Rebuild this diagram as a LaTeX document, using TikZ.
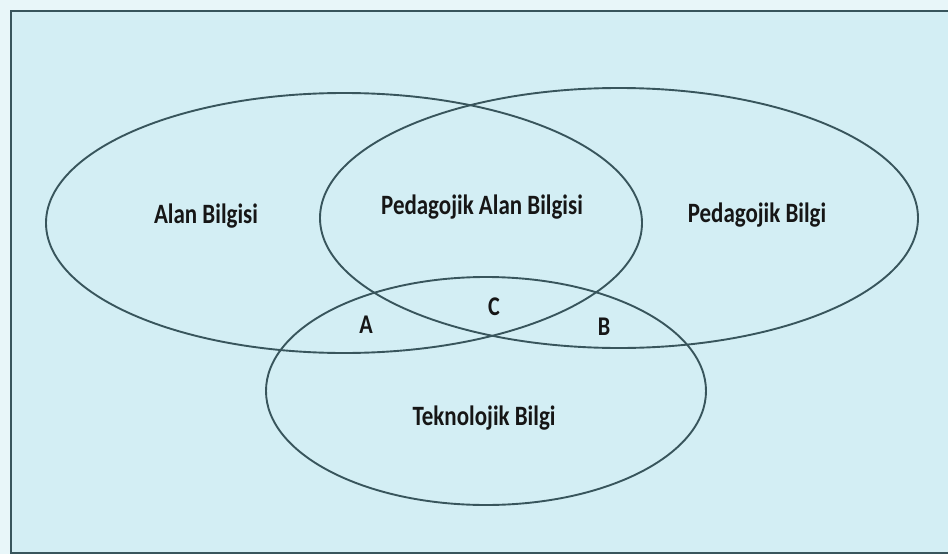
\documentclass[tikz,border=0pt]{standalone}
\usepackage{fontspec}
\setmainfont[FakeStretch=0.82]{Carlito}
\definecolor{bgc}{HTML}{D3EEF4}
\definecolor{outc}{HTML}{E8F6F9}
\definecolor{linec}{HTML}{38555C}
\definecolor{txtc}{HTML}{161616}
\tikzset{
  venn/.style={draw=linec, line width=1.9pt},
  lbl/.style={text=txtc, font=\bfseries\fontsize{28}{30}\selectfont, inner sep=0pt},
  small/.style={text=txtc, font=\bfseries\fontsize{27}{29}\selectfont, inner sep=0pt}
}
\begin{document}
\begin{tikzpicture}[x=1pt,y=-1pt]
\useasboundingbox (0,0) rectangle (948,554);
\fill[outc] (0,0) rectangle (948,554);
\fill[bgc] (11,11) rectangle (948,553);
\draw[linec, line width=2.4pt] (960,11) -- (11,11) -- (11,553) -- (960,553);
\draw[venn] (344,223) ellipse [x radius=298, y radius=130];
\draw[venn] (619,218) ellipse [x radius=299, y radius=130];
\draw[venn] (486,391) ellipse [x radius=220, y radius=114];
\node[lbl] (ab) at (206,216) {Alan Bilgisi};
\node[lbl] (pab) at (482,207) {Pedagojik Alan Bilgisi};
\node[lbl] (pb) at (757,215) {Pedagojik Bilgi};
\node[lbl] (tb) at (484,418) {Teknolojik Bilgi};
\node[small] (a) at (366,325) {A};
\node[small] (c) at (494,307) {C};
\node[small] (b) at (604,327) {B};
\end{tikzpicture}
\end{document}
